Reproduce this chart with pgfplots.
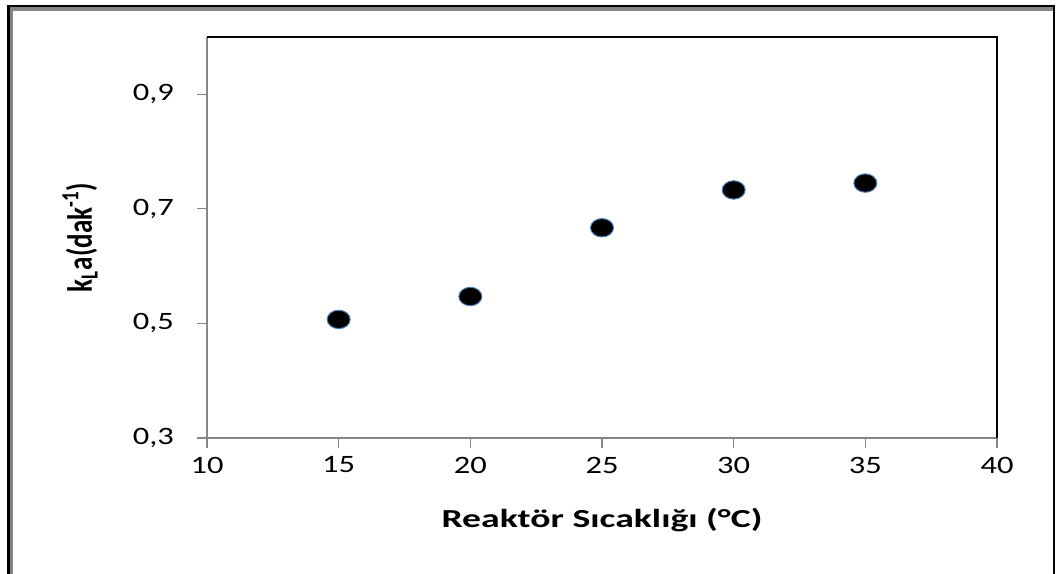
\documentclass[border=0pt]{standalone}
\usepackage{fontspec}
\setmainfont{Carlito}
\usepackage{pgfplots}
\pgfplotsset{compat=1.18}
\definecolor{axgray}{RGB}{134,134,134}
\definecolor{mkblue}{RGB}{74,126,187}
\begin{document}
\begin{tikzpicture}[x=1pt,y=1pt]
\useasboundingbox (0,0) rectangle (529.5,286.5);
% outer frame
\draw[black,line width=1.2pt] (4.2,-5) -- (4.2,283.6) -- (527.0,283.6) -- (527.0,-5);
\draw[axgray,line width=1.6pt] (5.9,-5) -- (5.9,282.0) -- (526.4,282.0);
\begin{axis}[
  at={(103.5pt,67.5pt)}, anchor=south west,
  scale only axis, width=395pt, height=200.5pt,
  xmin=10, xmax=40, ymin=0.3, ymax=1.0,
  xtick={10,15,...,40}, ytick={0.3,0.5,0.7,0.9},
  xtick pos=left, ytick pos=left,
  tick align=outside, major tick length=5pt,
  tick style={axgray, line width=0.6pt},
  axis line style={draw=none},
  /pgf/number format/assume math mode=true,
  /pgf/number format/use comma,
  yticklabel={\scalebox{1.3}[1]{\pgfmathprintnumber[fixed,fixed zerofill,precision=1,use comma]{\tick}}},
  xticklabel={\scalebox{1.3}[1]{\pgfmathprintnumber{\tick}}},
  yticklabel style={font=\fontsize{12.5}{14}\selectfont, xshift=-8pt},
  xticklabel style={font=\fontsize{12.5}{14}\selectfont, anchor=center, yshift=-8.5pt},
  xlabel={\scalebox{1.45}[1]{\textbf{Reaktör Sıcaklığı (°C)}}},
  ylabel={\scalebox{1}[1.3]{\textbf{k\textsubscript{L}a(dak\textsuperscript{-1})}}},
  xlabel style={font=\fontsize{13}{15}\selectfont, at={(axis description cs:0.5,0)}, anchor=center, yshift=-41pt},
  ylabel style={font=\fontsize{13.5}{15}\selectfont, at={(axis description cs:0,0.5)}, anchor=center, yshift=63.5pt},
  clip=false,
]
\addplot[only marks, mark=*, mark size=4.6pt,
  mark options={xscale=1.25, fill=black, draw=mkblue, line width=0.5pt}]
  coordinates {(15,0.507) (20,0.547) (25,0.667) (30,0.733) (35,0.745)};
\draw[axgray,line width=0.7pt] (rel axis cs:0,1) -- (rel axis cs:0,0) -- (rel axis cs:1,0);
\draw[black,line width=0.9pt] (rel axis cs:0,1) -- (rel axis cs:1,1) -- (rel axis cs:1,0);
\end{axis}
\end{tikzpicture}
\end{document}
